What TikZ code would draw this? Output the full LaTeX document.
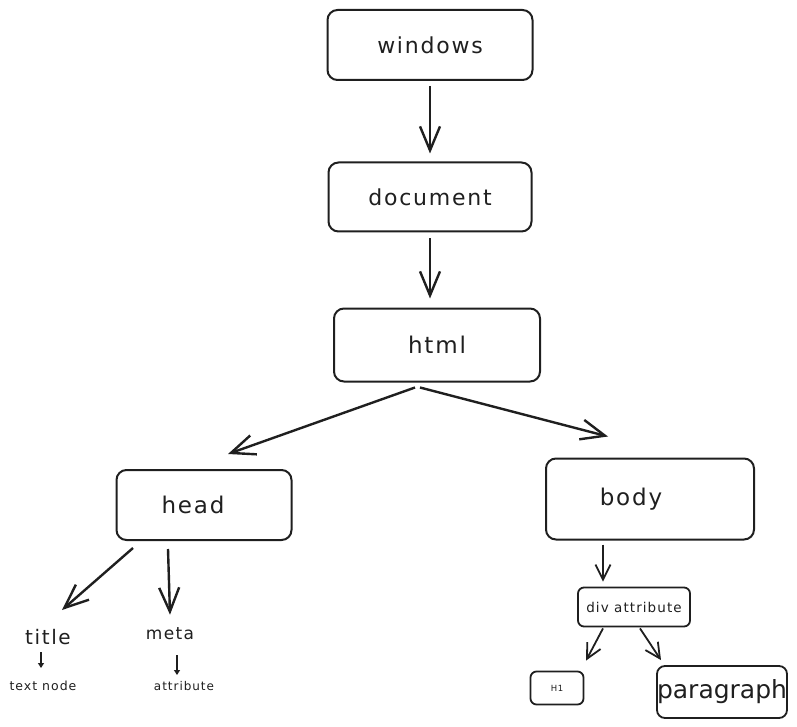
\documentclass[tikz,border=0pt]{standalone}
\usepackage{fontspec}
\setmainfont{DejaVu Sans}[LetterSpace=8]
\newfontfamily\apretada{DejaVu Sans}
\usetikzlibrary{arrows.meta,positioning}
\tikzstyle{caja} = [draw=black!88, line width=2pt, rectangle, rounded corners=10pt, inner sep=0pt, text=black!88]
\tikzstyle{texto} = [inner sep=1pt, text=black!88]
\tikzstyle{flecha} = [draw=black!88, line width=2.4pt, -{Straight Barb[length=24pt,width=20pt,line width=2.4pt]}]
\tikzstyle{flechamedia} = [draw=black!88, line width=1.8pt, -{Straight Barb[length=15pt,width=15pt,line width=1.8pt]}]
\tikzstyle{flechita} = [draw=black!88, line width=1.8pt, -{Triangle[length=5pt,width=6pt]}]

\begin{document}
\begin{tikzpicture}[x=1pt,y=-1pt]
\useasboundingbox (0,0) rectangle (797,727);
% cajas principales
\node[caja, minimum width=205pt, minimum height=70pt, font=\fontsize{22}{24}\selectfont] (windows) at (430,45) {windows};
\node[caja, minimum width=203pt, minimum height=69pt, font=\fontsize{22}{24}\selectfont] (document) at (430,197) {document};
\node[caja, minimum width=206pt, minimum height=73pt, font=\fontsize{23}{25}\selectfont] (html) at (437,345) {html};
\node[caja, minimum width=175pt, minimum height=70pt, label={[texto, xshift=-11pt, font=\fontsize{23}{25}\selectfont]center:head}] (head) at (204,505) {};
\node[caja, minimum width=208pt, minimum height=81pt, label={[texto, xshift=-19pt, font=\fontsize{23}{25}\selectfont]center:body}] (body) at (650,499) {};
% hijos de head
\node[texto, font=\fontsize{20}{22}\selectfont] (title) at (48,637) {title};
\node[texto, font=\fontsize{12.5}{14}\selectfont] (textnode) at (43,686) {text node};
\node[texto, font=\fontsize{17}{19}\selectfont] (meta) at (170,634) {meta};
\node[texto, font=\fontsize{12}{14}\selectfont] (attribute) at (184,686) {attribute};
% hijos de body
\node[caja, line width=1.8pt, rounded corners=6pt, minimum width=112pt, minimum height=39pt, font=\fontsize{13.5}{15}\selectfont] (div) at (634,607) {div attribute};
\node[caja, line width=1.8pt, rounded corners=6pt, minimum width=53pt, minimum height=33pt, font=\fontsize{8.5}{10}\selectfont] (h1) at (557,688) {H1};
\node[caja, line width=1.8pt, rounded corners=8pt, minimum width=130pt, minimum height=52pt, font=\apretada\fontsize{25}{27}\selectfont] (paragraph) at (722,692) {paragraph};
% conexiones
\draw[flecha, shorten <=5pt, shorten >=8pt] (windows) -- (document);
\draw[flecha, shorten <=6pt, shorten >=9pt] (document.south) -- ([xshift=-7pt]html.north);
\draw[flecha] ([xshift=-22pt,yshift=-5pt]html.south) -- ([xshift=24pt,yshift=15pt]head.north);
\draw[flecha] ([xshift=-17pt,yshift=-5pt]html.south) -- ([xshift=-42pt,yshift=21pt]body.north);
\draw[flecha] ([xshift=-71pt,yshift=-7pt]head.south) -- ([xshift=14pt,yshift=27pt]title.center);
\draw[flecha] ([xshift=-36pt,yshift=-8pt]head.south) -- ([xshift=0pt,yshift=12pt]meta.north);
\draw[flechamedia] ([xshift=-47pt,yshift=-4pt]body.south) -- ([xshift=-31pt,yshift=5pt]div.north);
\draw[flechita] ([xshift=-7pt,yshift=-15pt]title.center) -- ([xshift=-2pt,yshift=18pt]textnode.center);
\draw[flechita] ([xshift=7pt,yshift=-21pt]meta.center) -- ([xshift=-7pt,yshift=11pt]attribute.center);
\draw[flechamedia] ([xshift=-31pt,yshift=-1pt]div.south) -- ([xshift=29pt,yshift=10pt]h1.north);
\draw[flechamedia] ([xshift=6pt,yshift=-1pt]div.south) -- ([xshift=-61pt,yshift=5pt]paragraph.north);
\end{tikzpicture}
\end{document}
